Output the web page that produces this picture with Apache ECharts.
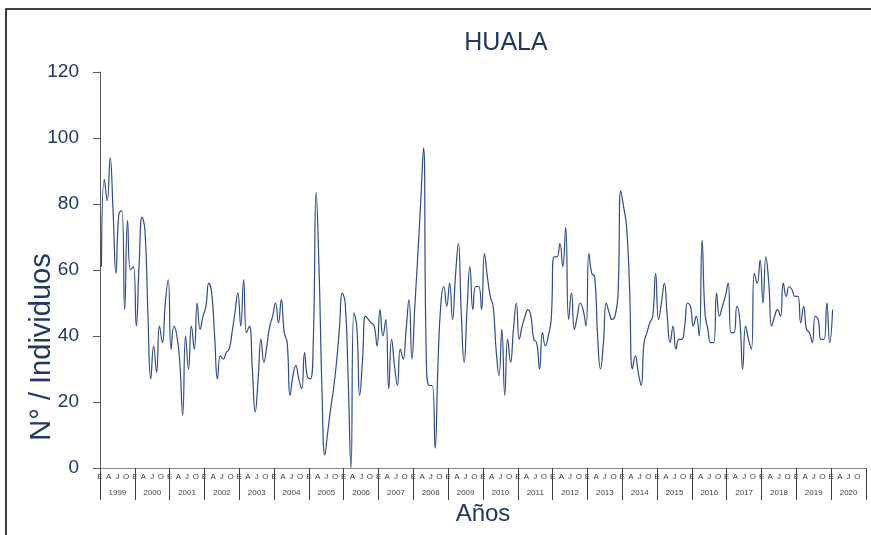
<!DOCTYPE html>
<html>
<head>
<meta charset="utf-8">
<title>HUALA</title>
<script src="https://cdn.jsdelivr.net/npm/echarts@6/dist/echarts.min.js"></script>
<style>
	html, body { margin: 0; padding: 0; background: #fff; }
	#chart { width: 871px; height: 535px; }
</style>
</head>
<body>
<div id="chart"></div>
<script>
// años del eje (2020 sin datos completos)
var years = ['1999','2000','2001','2002','2003','2004','2005','2006','2007','2008','2009',
	'2010','2011','2012','2013','2014','2015','2016','2017','2018','2019','2020'];
// etiquetas de mes cada 3 meses: Enero, Abril, Julio, Octubre
var monthLabels = ['E','A','J','O'];
var yTicks = [0, 20, 40, 60, 80, 100, 120];

// N° de individuos por mes, ene-1999 .. ene-2020, leídos por año
var v1999 = [61, 87.5, 81, 94, 78, 59, 77, 78, 48, 75, 60, 61];
var v2000 = [43, 62, 76, 72, 47, 27, 37, 29, 43, 38, 50, 57];
var v2001 = [36, 43, 40, 32, 16, 40, 30, 43, 36, 50, 42, 46];
var v2002 = [49, 56, 53, 40, 27, 34, 33, 35, 36, 41, 47, 53];
var v2003 = [43, 57, 41, 43, 30, 17, 27, 39, 32, 37, 43, 46];
var v2004 = [50, 44, 51, 41, 38, 22, 28, 31, 27, 24, 35, 27.5];
var v2005 = [27, 38, 83.5, 60, 24, 4, 11, 18, 24, 32, 42, 53];
var v2006 = [50, 28, 0, 47, 43, 22, 33, 46, 45, 44, 43, 37];
var v2007 = [48, 40, 45, 24, 39, 31, 25, 36, 33, 42, 51, 33];
var v2008 = [49, 64, 80, 97, 32, 25, 25, 6, 32, 50, 55, 49];
var v2009 = [56, 45, 58, 68, 47, 32, 48, 61, 48, 55, 55, 48];
var v2010 = [65, 58, 52, 49, 36, 28, 42, 22, 39, 32, 42, 50];
var v2011 = [39, 43, 46, 48, 46, 39, 38, 30, 41, 37, 40, 45];
var v2012 = [64, 64, 68, 61, 73, 45, 53, 42, 46, 50, 48, 43];
var v2013 = [65, 59, 58, 40, 30, 38, 50, 47, 45, 46, 52, 84];
var v2014 = [79, 73, 55, 30, 34, 29, 25, 38, 41, 44, 46, 59];
var v2015 = [45, 50, 56, 46, 38, 43, 36, 39, 39, 43, 50, 49];
var v2016 = [43, 46, 40, 69, 47, 42, 38, 38, 53, 46, 49, 52];
var v2017 = [56, 41, 41, 49, 45, 30, 43, 39, 36, 59, 56, 63];
var v2018 = [50, 64, 56, 43, 46, 48, 46, 56, 52, 55, 54, 52];
var v2019 = [52, 44, 49, 42, 41, 38, 46, 45, 39, 39, 50, 38];
var v2020 = [48];

var allValues = [].concat(v1999, v2000, v2001, v2002, v2003, v2004, v2005, v2006, v2007,
	v2008, v2009, v2010, v2011, v2012, v2013, v2014, v2015, v2016, v2017, v2018, v2019, v2020);

var navy = '#1F3864';

//cada punto va al centro de su mes
function buildPoints(values){
	var pts = [];
	for (var i = 0; i < values.length; i++) {
		pts.push([i + 0.5, values[i]]);
	}
	return pts;
}

var chart = echarts.init(document.getElementById('chart'));
var option = {
	animation: false,
	backgroundColor: '#fff',
	grid: {
		left: 100,
		right: 5,
		top: 72,
		bottom: 67
	},
	title: {
		text: 'HUALA',
		left: 501,
		top: 26,
		textAlign: 'center',
		textStyle: {
			color: navy,
			fontFamily: 'Liberation Sans',
			fontSize: 25,
			fontWeight: 'normal'
		}
	},
	xAxis: [{
		// meses
		type: 'value',
		min: 0,
		max: years.length * 12,
		interval: 3,
		axisLine: { show: true, lineStyle: { color: '#8c8c8c', width: 1 } },
		axisTick: { show: false },
		splitLine: { show: false },
		axisLabel: {
			show: true,
			margin: 5,
			showMaxLabel: false,
			color: '#404040',
			fontFamily: 'Liberation Sans',
			fontSize: 8,
			formatter: function (val) {
				return monthLabels[Math.round(val / 3) % 4];
			}
		},
		name: 'Años',
		nameLocation: 'middle',
		nameGap: 34,
		nameTextStyle: {
			color: navy,
			fontFamily: 'Liberation Sans',
			fontSize: 24
		}
	}, {
		// años con separadores
		type: 'category',
		position: 'bottom',
		data: years,
		boundaryGap: true,
		axisLine: { show: false },
		axisTick: {
			show: true,
			interval: 0,
			length: 32,
			lineStyle: { color: '#404040', width: 1 }
		},
		axisLabel: {
			interval: 0,
			margin: 21,
			color: '#404040',
			fontFamily: 'Liberation Sans',
			fontSize: 8
		},
		splitLine: { show: false }
	}],
	yAxis: {
		type: 'value',
		min: yTicks[0],
		max: yTicks[yTicks.length - 1],
		interval: 20,
		axisLine: { show: true, lineStyle: { color: '#595959', width: 1 } },
		axisTick: { show: true, length: 7, lineStyle: { color: '#595959' } },
		splitLine: { show: false },
		axisLabel: {
			margin: 21,
			color: navy,
			fontFamily: 'Liberation Sans',
			fontSize: 19
		}
	},
	graphic: [{
		// marco del gráfico
		type: 'polyline',
		shape: { points: [[6, 540], [6, 9], [875, 9]] },
		style: { fill: null, stroke: '#000', lineWidth: 1.5 }
	}, {
		type: 'text',
		x: 42,
		y: 347,
		rotation: Math.PI / 2,
		style: {
			text: 'N° / Individuos',
			fill: navy,
			font: '29px "Liberation Sans"',
			textAlign: 'center',
			textVerticalAlign: 'middle'
		}
	}],
	series: [{
		name: 'HUALA',
		type: 'line',
		xAxisIndex: 0,
		data: buildPoints(allValues),
		smooth: 0.5,
		showSymbol: false,
		clip: true,
		lineStyle: { color: '#2F4B8A', width: 1.2 }
	}]
};
chart.setOption(option);
</script>
</body>
</html>
